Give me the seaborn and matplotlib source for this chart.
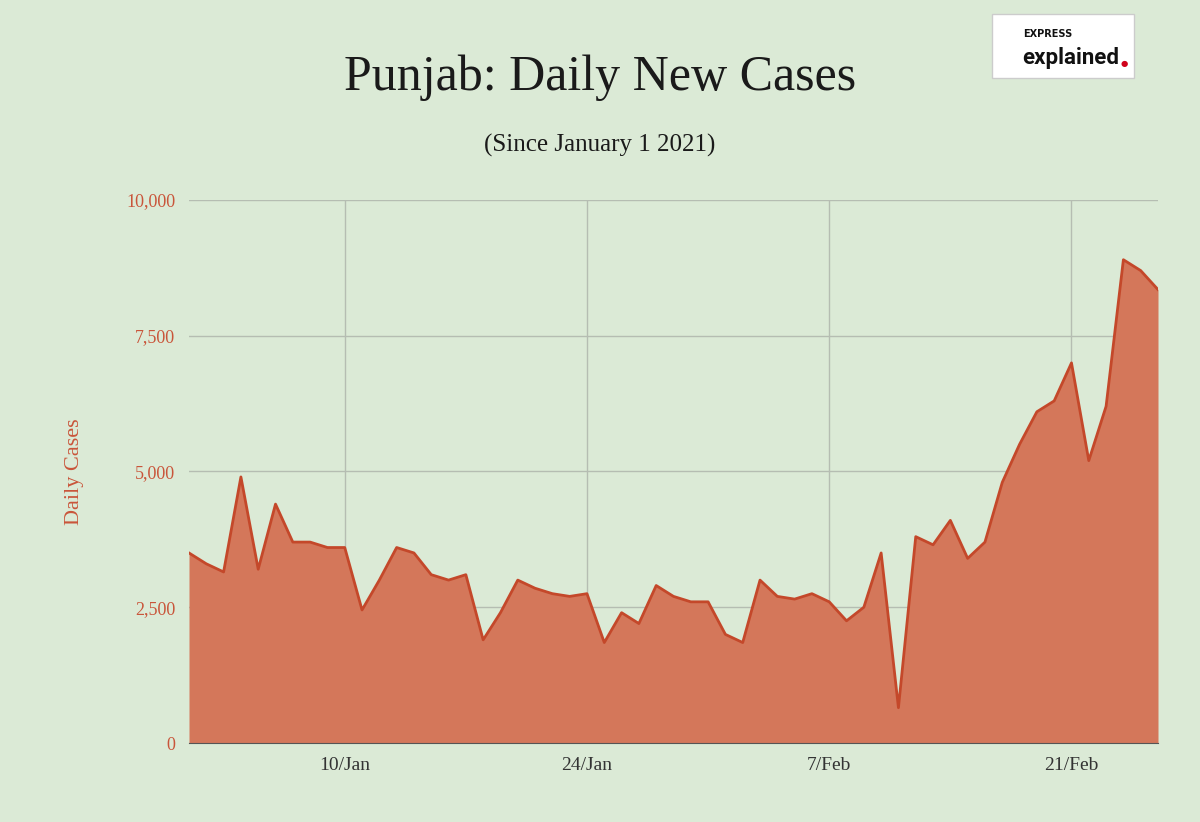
import numpy as np
import pandas as pd
import seaborn as sns
import matplotlib.pyplot as plt

# daily new cases, Jan 1 to Feb 26 2021
dates = pd.date_range("2021-01-01", "2021-02-26", freq="D")
cases = [3500, 3300, 3150, 4900, 3200, 4400, 3700, 3700, 3600, 3600,
         2450, 3000, 3600, 3500, 3100, 3000, 3100, 1900, 2400, 3000,
         2850, 2750, 2700, 2750, 1850, 2400, 2200, 2900, 2700, 2600,
         2600, 2000, 1850, 3000, 2700, 2650, 2750, 2600, 2250, 2500,
         3500, 650, 3800, 3650, 4100, 3400, 3700, 4800, 5500, 6100,
         6300, 7000, 5200, 6200, 8900, 8700, 8350]
y_ticks = [0, 2500, 5000, 7500, 10000]
x_ticks = ["2021-01-10", "2021-01-24", "2021-02-07", "2021-02-21"]
x_labels = ["10/Jan", "24/Jan", "7/Feb", "21/Feb"]

df = pd.DataFrame({"date": dates, "cases": cases})

bg = "#dbead6"
serif = "Liberation Serif"
fig = plt.figure(figsize=(12, 8.22), dpi=100, facecolor=bg)
ax = fig.add_axes([0.1575, 0.0961, 0.8075, 0.6606], facecolor=bg)

ax.fill_between(df["date"], df["cases"], color="#d4775a", lw=0)
sns.lineplot(data=df, x="date", y="cases", ax=ax, color="#c4482a", lw=2)

ax.set_xlim(dates[0], dates[-1])
ax.set_ylim(0, 10000)
ax.set_yticks(y_ticks)
ax.set_yticklabels([f"{v:,}" for v in y_ticks], color="#c9553a",
                   fontsize=13, fontfamily=serif)
ax.set_xticks(pd.to_datetime(x_ticks))
ax.set_xticklabels(x_labels, fontsize=14, fontfamily=serif, color="#333333")
ax.grid(True, color="#b5bdb2", lw=1)
ax.set_axisbelow(True)
ax.tick_params(length=0, pad=10)
for s in ["top", "right", "left"]:
    ax.spines[s].set_visible(False)
ax.spines["bottom"].set_color("#555555")
ax.set_xlabel("")
ax.set_ylabel("Daily Cases", color="#c9553a", fontsize=16,
              fontfamily=serif, labelpad=30)

fig.text(0.5, 0.905, "Punjab: Daily New Cases", ha="center", va="center",
         fontsize=36, fontfamily=serif, color="#1a1a1a")
fig.text(0.5, 0.823, "(Since January 1 2021)", ha="center", va="center",
         fontsize=18, fontfamily=serif, color="#1a1a1a")

# logo box
fig.patches.append(plt.Rectangle((0.827, 0.905), 0.118, 0.078,
                                 transform=fig.transFigure,
                                 facecolor="white", edgecolor="#cccccc"))
fig.text(0.853, 0.955, "EXPRESS", fontsize=7, fontweight="bold", color="#111")
t = fig.text(0.852, 0.93, "explained", fontsize=16, fontweight="bold",
             color="#111", va="center", fontfamily="Roboto")
fig.text(0.934, 0.923, "●", fontsize=6, color="#d0021b", va="center")

fig.savefig("out.png", dpi=100, facecolor=bg)
